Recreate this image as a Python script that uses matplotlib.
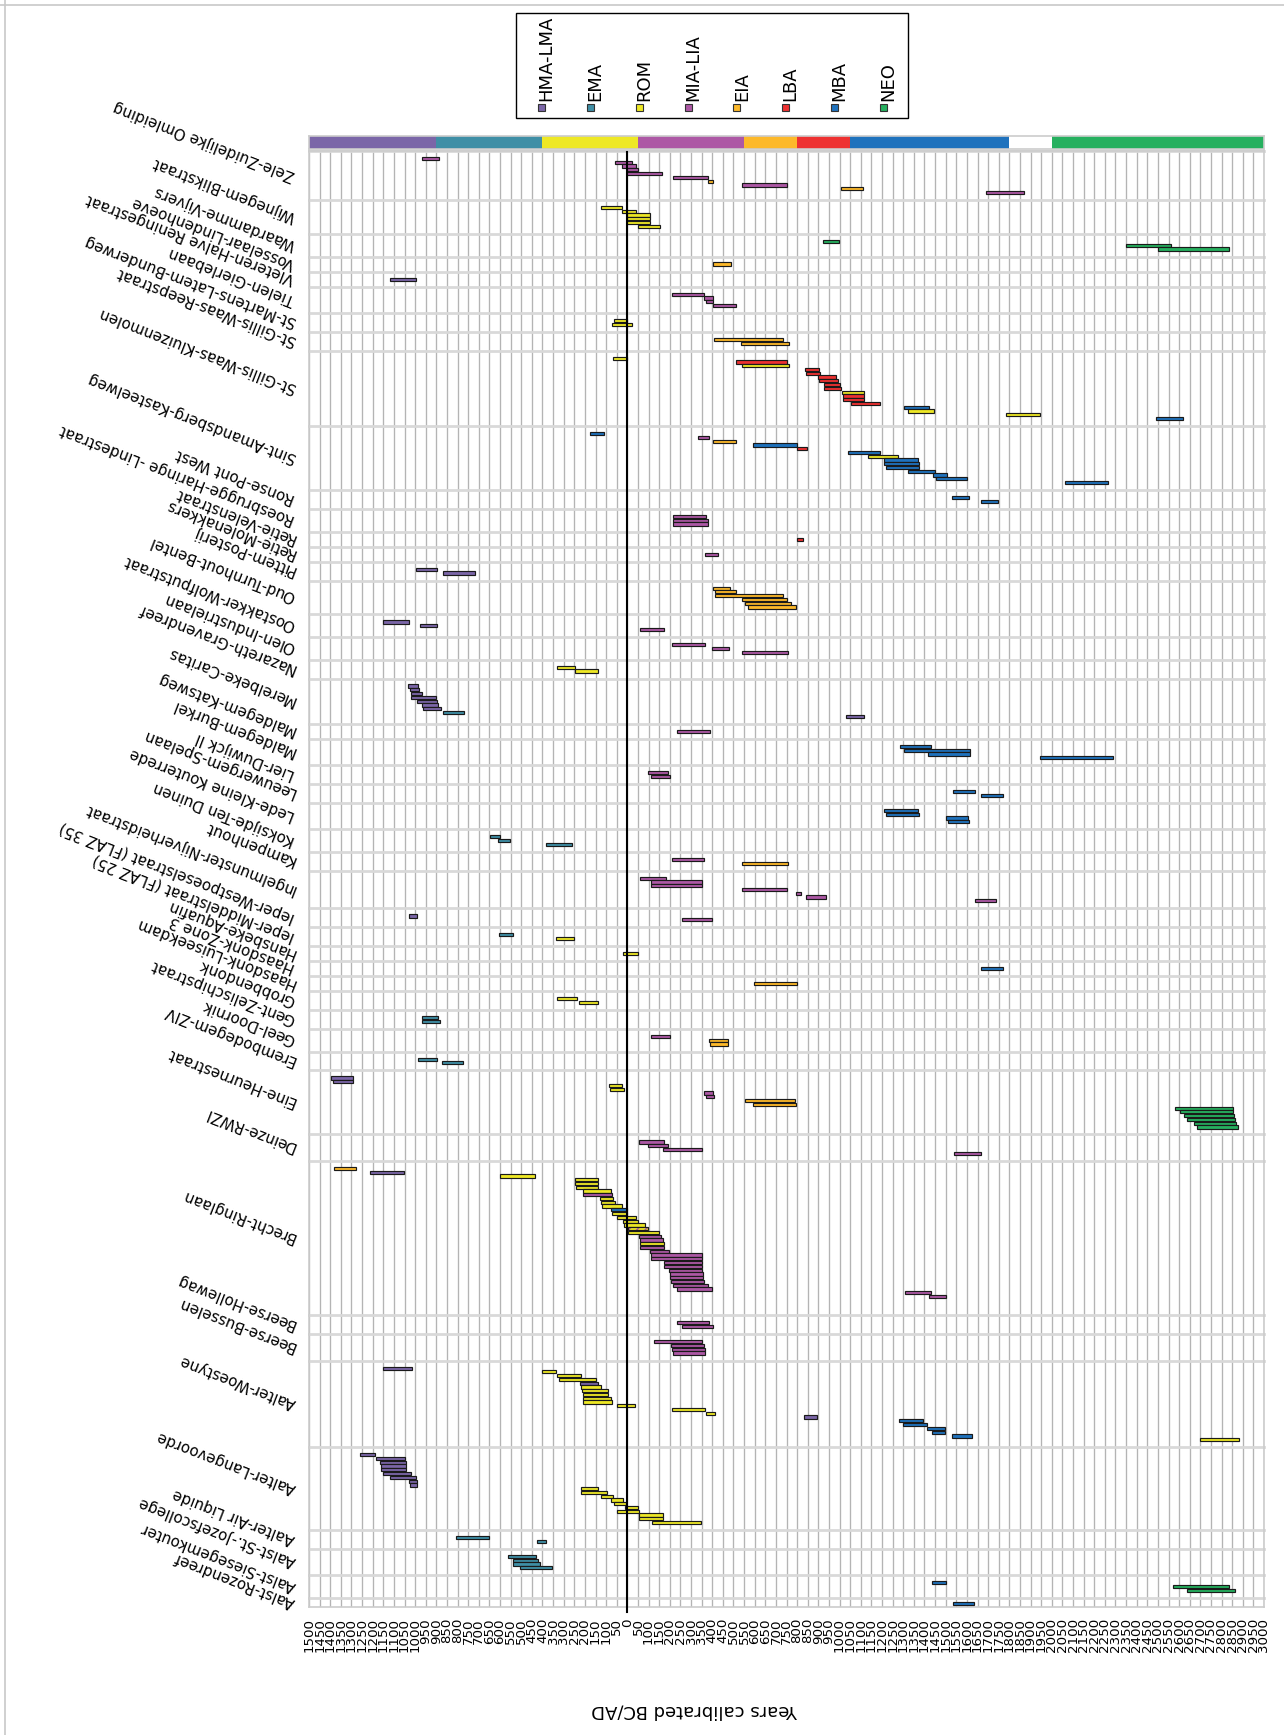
import matplotlib
matplotlib.use("Agg")
import matplotlib.pyplot as plt
import matplotlib.transforms as mtransforms
from matplotlib.patches import Rectangle
from matplotlib.lines import Line2D

# ---------------- data ----------------
period_names = ["HMA-LMA", "EMA", "ROM", "MIA-LIA", "EIA", "LBA", "MBA", "NEO"]
period_start = [900, 400, -50, -550, -800, -1050, -1800, -3000]
period_end = [1500, 900, 400, -50, -550, -800, -1050, -2000]
period_colors = ["#7b66a8", "#3f8fa6", "#eee825", "#ad58a5", "#fdb92a",
                 "#ee3131", "#1f72bd", "#26b05f"]

sites = [
    "Zele-Zuidelijke Omleiding", "Wijnegem-Blikstraat", "Waardamme-Vijvers",
    "Vosselaar-Lindenhoeve", "Vleteren-Halve Reningestraat", "Tielen-Gierlebaan",
    "St-Martens-Latem-Bunderweg", "St-Gillis-Waas-Reepstraat",
    "St-Gillis-Waas-Kluizenmolen", "Sint-Amandsberg-Kasteelweg", "Ronse-Pont West",
    "Roesbrugge-Haringe -Lindestraat", "Retie-Velenstraat", "Retie-Molenakkers",
    "Pittem-Posterij", "Oud-Turnhout-Bentel", "Oostakker-Wolfputstraat",
    "Olen-Industrielaan", "Nazareth-Gravendreef", "Merelbeke-Caritas",
    "Maldegem-Katsweg", "Maldegem-Burkel", "Lier-Duwijck II", "Leeuwergem-Spelaan",
    "Lede-Kleine Kouterrede", "Koksijde-Ten Duinen", "Kampenhout",
    "Ingelmunster-Nijverheidstraat", "Ieper-Westpoeselstraat (FLAZ 35)",
    "Ieper-Middelstraat (FLAZ 25)", "Hansbeke-Aquafin", "Haasdonk-Zone 3",
    "Haasdonk-Luiseekdam", "Grobbendonk", "Gent-Zelischipstraat", "Geel-Doornik",
    "Erembodegem-ZIV", "Eine-Heurnestraat", "Deinze-RWZI", "Brecht-Ringlaan",
    "Beerse-Hollewag", "Beerse-Busselen", "Aalter-Woestyne", "Aalter-Langevoorde",
    "Aalter-Air Liquide", "Aalst-St.-Jozefscollege", "Aalst-Siesegemkouter",
    "Aalst-Rozendreef",
]

# number of dated samples (rows) per site
site_counts = [10, 6, 3, 1, 1, 4, 2, 2, 17, 14, 2, 3, 1, 1, 2, 6, 3, 3, 2, 9,
               1, 4, 2, 2, 4, 3, 2, 7, 2, 2, 1, 1, 1, 2, 2, 3, 2, 14, 4, 38,
               2, 4, 20, 19, 2, 4, 3, 1]

# calibrated ranges (lower, upper) in years AD (BC negative) and attributed period
date_lo = [
    887, -23, -41, -50, -163, -382, -402, -752, -1109, -1870,
    26, -41, -105, -105, -105, -155,
    -998, -2562, -2836,
    -490,
    995,
    -361, -402, -405, -510,
    3, -20,
    -732, -764,
    3, -752, -764, -901, -910, -983, -995, -1001, -1009, -1114, -1117, -1117, -1190, -1421, -1444, -1943, -2620,
    111, -385, -510, -799, -846, -1190, -1275, -1368, -1374, -1374, -1450, -1505, -1602, -2267,
    -1611, -1748,
    -373, -379, -379,
    -828,
    -429,
    899, 718,
    -484, -510, -735, -752, -770, -793,
    1030, 896, -175,
    -364, -481, -755,
    245, 137,
    986, 984, 969, 902, 899, 890, 879, 771, -1117,
    -388,
    -1430, -1613, -1613, -2287,
    -192, -201,
    -1637, -1768,
    -1368, -1374, -1607, -1610,
    598, 555, 263,
    -361, -758,
    -181, -350, -350, -752, -817, -934, -1736,
    989, -400,
    540, 251,
    -50,
    -1771,
    -799,
    237, 137,
    890, 884,
    -201, -472, -475,
    899, 773,
    1293, 1293, 24, 18, -402, -408, -790, -796, -2856, -2856, -2859, -2862, -2868, -2877,
    -172, -192, -353, -1666,
    1278, 1051, 435, 137, 140, 137, 76, 70, 67, 58, 26, 3, 3, -41, -50, -81, -99, -149,
    -160, -166, -172, -175, -198, -350, -350, -353, -353, -353, -356, -356, -361, -379,
    -397, -1430, -1500, None, None, None,
    -385, -405,
    -350, -359, -364, -364,
    1016, 336, 216, 146, 137, 123, 91, 91, 79, 73, -38, -364, -411, -896, -1395, -1412,
    -1496, -1496, -1622, -2880,
    1191, 1048, 1045, 1045, 1045, 1019, 995, 992, 992, 137, 94, 67, 21, 6, -50, -55,
    -166, -169, -347,
    651, 385,
    432, 423, 412, 353,
    -1500, -2836, -2865,
    -1634,
]
date_hi = [
    969, 56, 26, 0, 0, -213, -382, -540, -1006, -1692,
    123, 26, 0, 0, 0, -50,
    -922, -2352, -2501,
    -402,
    1118,
    -210, -361, -370, -402,
    64, 70,
    -408, -537,
    67, -510, -542, -837, -840, -898, -901, -925, -925, -1012, -1015, -1015, -1053, -1304, -1322, -1783, -2492,
    175, -335, -402, -592, -799, -1041, -1135, -1208, -1211, -1217, -1322, -1438, -1453, -2060,
    -1529, -1666,
    -213, -213, -213,
    -799,
    -367,
    995, 867,
    -402, -411, -414, -540, -554, -569,
    1150, 975, -61,
    -210, -399, -540,
    330, 248,
    1033, 1024, 1019, 1019, 989, 966, 963, 867, -1030,
    -236,
    -1287, -1304, -1415, -1946,
    -99, -111,
    -1535, -1666,
    -1208, -1220, -1502, -1511,
    645, 610, 385,
    -210, -542,
    -61, -111, -111, -540, -793, -840, -1640,
    1030, -257,
    604, 336,
    21,
    -1666,
    -595,
    330, 228,
    969, 969,
    -111, -385, -391,
    986, 873,
    1395, 1389, 85, 82, -359, -370, -554, -592, -2582, -2603, -2623, -2635, -2670, -2684,
    -55, -99, -169, -1538,
    1383, 1211, 598, 248, 245, 242, 207, 207, 131, 123, 120, 76, 70, 50, 21, 18, -3, -3,
    -55, -58, -61, -61, -105, -111, -111, -172, -172, -198, -201, -201, -207, -213,
    -236, -1310, -1421, None, None, None,
    -236, -257,
    -125, -204, -210, -213,
    1150, 400, 330, 321, 225, 216, 213, 210, 210, 207, 50, -210, -373, -831, -1281, -1301,
    -1412, -1435, -1532, -2699,
    1258, 1185, 1164, 1159, 1159, 1150, 1118, 1027, 1022, 219, 219, 126, 79, 64, 9, 50,
    -55, -55, -117,
    808, 426,
    560, 540, 537, 505,
    -1435, -2573, -2635,
    -1535,
]
date_period = [
    "MIA-LIA", "MIA-LIA", "MIA-LIA", "MIA-LIA", "MIA-LIA", "MIA-LIA", "EIA", "MIA-LIA", "EIA", "MIA-LIA",
    "ROM", "ROM", "ROM", "ROM", "ROM", "ROM",
    "NEO", "NEO", "NEO",
    "EIA",
    "HMA-LMA",
    "MIA-LIA", "MIA-LIA", "MIA-LIA", "MIA-LIA",
    "ROM", "ROM",
    "EIA", "EIA",
    "ROM", "LBA", "ROM", "LBA", "LBA", "LBA", "LBA", "LBA", "LBA", "ROM", "LBA", "LBA", "LBA", "MBA", "ROM", "ROM", "MBA",
    "MBA", "MIA-LIA", "EIA", "MBA", "LBA", "MBA", "ROM", "MBA", "MBA", "MBA", "MBA", "MBA", "MBA", "MBA",
    "MBA", "MBA",
    "MIA-LIA", "MIA-LIA", "MIA-LIA",
    "LBA",
    "MIA-LIA",
    "HMA-LMA", "HMA-LMA",
    "EIA", "EIA", "EIA", "EIA", "EIA", "EIA",
    "HMA-LMA", "HMA-LMA", "MIA-LIA",
    "MIA-LIA", "MIA-LIA", "MIA-LIA",
    "ROM", "ROM",
    "HMA-LMA", "HMA-LMA", "HMA-LMA", "HMA-LMA", "HMA-LMA", "HMA-LMA", "HMA-LMA", "EMA", "HMA-LMA",
    "MIA-LIA",
    "MBA", "MBA", "MBA", "MBA",
    "MIA-LIA", "MIA-LIA",
    "MBA", "MBA",
    "MBA", "MBA", "MBA", "MBA",
    "EMA", "EMA", "EMA",
    "MIA-LIA", "EIA",
    "MIA-LIA", "MIA-LIA", "MIA-LIA", "MIA-LIA", "MIA-LIA", "MIA-LIA", "MIA-LIA",
    "HMA-LMA", "MIA-LIA",
    "EMA", "ROM",
    "ROM",
    "MBA",
    "EIA",
    "ROM", "ROM",
    "EMA", "EMA",
    "MIA-LIA", "EIA", "EIA",
    "EMA", "EMA",
    "HMA-LMA", "HMA-LMA", "ROM", "ROM", "MIA-LIA", "MIA-LIA", "EIA", "EIA", "NEO", "NEO", "NEO", "NEO", "NEO", "NEO",
    "MIA-LIA", "MIA-LIA", "MIA-LIA", "MIA-LIA",
    "EIA", "HMA-LMA", "ROM", "ROM", "ROM", "ROM", "ROM", "MIA-LIA", "ROM", "ROM", "ROM", "MBA", "ROM", "ROM", "ROM", "ROM", "ROM/MIA-LIA", "ROM",
    "MIA-LIA", "MIA-LIA", "ROM", "MIA-LIA", "MIA-LIA", "MIA-LIA", "MIA-LIA", "MIA-LIA", "MIA-LIA", "MIA-LIA", "MIA-LIA", "MIA-LIA", "MIA-LIA", "MIA-LIA",
    "MIA-LIA", "MIA-LIA", "MIA-LIA", None, None, None,
    "MIA-LIA", "MIA-LIA",
    "MIA-LIA", "MIA-LIA", "MIA-LIA", "MIA-LIA",
    "HMA-LMA", "ROM", "ROM", "ROM", "HMA-LMA", "ROM", "ROM", "ROM", "ROM", "ROM", "ROM", "ROM", "ROM", "HMA-LMA", "MBA", "MBA",
    "MBA", "MBA", "MBA", "ROM",
    "HMA-LMA", "HMA-LMA", "HMA-LMA", "HMA-LMA", "HMA-LMA", "HMA-LMA", "HMA-LMA", "HMA-LMA", "HMA-LMA", "ROM", "ROM", "ROM", "ROM", "ROM", "ROM", "ROM",
    "ROM", "ROM", "ROM",
    "EMA", "EMA",
    "EMA", "EMA", "EMA", "EMA",
    "MBA", "NEO", "NEO",
    "MBA",
]

x_ticks = list(range(-3000, 1501, 50))
x_ticklabels = [str(abs(v)) for v in x_ticks]

# ---------------- layout ----------------
W, H = 1284, 1735
fig = plt.figure(figsize=(W / 100, H / 100), dpi=100)
fig.patch.set_facecolor("white")


def fx(px):
    return px / W


def fy(py):
    return 1 - py / H


AX_L, AX_R, AX_T, AX_B = 309, 1264, 151, 1607
ax = fig.add_axes([fx(AX_L), fy(AX_B), (AX_R - AX_L) / W, (AX_B - AX_T) / H])

col = dict(zip(period_names, period_colors))

# row positions
group_top = []
row_y = []
cur = 0.0
for g, n in enumerate(site_counts):
    last = (g == len(site_counts) - 1)
    top_pad = 1.4 if last else 2.0
    group_top.append(cur)
    for i in range(n):
        row_y.append(cur + top_pad + i)
    cur += n - 1 + top_pad + (1.0 if last else 2.0)
y_bottom = cur

ax.set_xlim(1500, -3000)
ax.set_ylim(y_bottom, 0)

# vertical grid every 50 years
for v in x_ticks:
    ax.axvline(v, color="#b4b4b4", lw=0.95, zorder=1)

# group separators
for yt in group_top:
    ax.axhline(yt, color="#d9d9d9", lw=2.0, zorder=2, clip_on=False)

# bars
BAR_H = 0.85
for y, lo, hi, per in zip(row_y, date_lo, date_hi, date_period):
    if lo is None:
        continue
    if per == "ROM/MIA-LIA":
        ax.barh(y, hi - lo, left=lo, height=BAR_H, color=col["ROM"],
                edgecolor=col["MIA-LIA"], hatch="////", linewidth=0, zorder=3)
        ax.barh(y, hi - lo, left=lo, height=BAR_H, fill=False,
                edgecolor="#1a1a1a", linewidth=0.85, zorder=4)
    else:
        ax.barh(y, hi - lo, left=lo, height=BAR_H, color=col[per],
                edgecolor="#1a1a1a", linewidth=0.85, zorder=3)

# zero line
ax.plot([0, 0], [0.3, y_bottom + 1.4], color="black", lw=1.5, zorder=6,
        clip_on=False)

for s in ax.spines.values():
    s.set_color("#cccccc")
    s.set_linewidth(1.2)

ax.set_xticks(x_ticks)
ax.set_xticklabels(x_ticklabels, rotation=90, fontsize=9.6)
ax.tick_params(axis="x", length=0, pad=8)
ax.set_yticks([])

# site labels (upside-down, slanted)
trans = mtransforms.blended_transform_factory(ax.transAxes, ax.transData)
for g, (name, n) in enumerate(zip(sites, site_counts)):
    last = (g == len(site_counts) - 1)
    top_pad = 1.4 if last else 2.0
    yc = group_top[g] + top_pad + (n - 1) / 2
    ax.text(-0.015, yc, name, transform=trans, rotation=158.7,
            rotation_mode="anchor", ha="left", va="center", fontsize=10.8,
            clip_on=False)

# period strip on top
ax_s = fig.add_axes([fx(AX_L), fy(149.5), (AX_R - AX_L) / W, 13.5 / H])
ax_s.set_xlim(1500, -3000)
ax_s.set_ylim(0, 1)
for p0, p1, c in zip(period_start, period_end, period_colors):
    ax_s.axvspan(p0, p1, color=c, lw=0)
ax_s.set_xticks([])
ax_s.set_yticks([])
for s in ax_s.spines.values():
    s.set_color("#cccccc")
    s.set_linewidth(1.2)

# legend box
LX0, LY0, LX1, LY1 = 516, 13, 908, 118
fig.add_artist(Rectangle((fx(LX0), fy(LY1)), (LX1 - LX0) / W, (LY1 - LY0) / H,
                         transform=fig.transFigure, fill=False,
                         edgecolor="black", lw=1.0))
for i, (name, c) in enumerate(zip(period_names, period_colors)):
    cx = 541.7 + i * 48.8
    fig.add_artist(Rectangle((fx(cx - 3.5), fy(111.5)), 7 / W, 7.5 / H,
                             transform=fig.transFigure, facecolor=c,
                             edgecolor="#333333", lw=0.8))
    fig.text(fx(cx + 5), fy(101), name, rotation=90, ha="center", va="bottom",
             fontsize=13)

# axis title (upside-down)
fig.text(fx(695), fy(1710), "Years calibrated BC/AD", rotation=180,
         ha="center", va="center", fontsize=13)

# frame lines of the figure
fig.add_artist(Line2D([0, 1], [fy(5), fy(5)], transform=fig.transFigure,
                      color="#c8c8c8", lw=1.2))
fig.add_artist(Line2D([fx(5), fx(5)], [0, 1], transform=fig.transFigure,
                      color="#c8c8c8", lw=1.2))

fig.savefig("out.png", dpi=100)
